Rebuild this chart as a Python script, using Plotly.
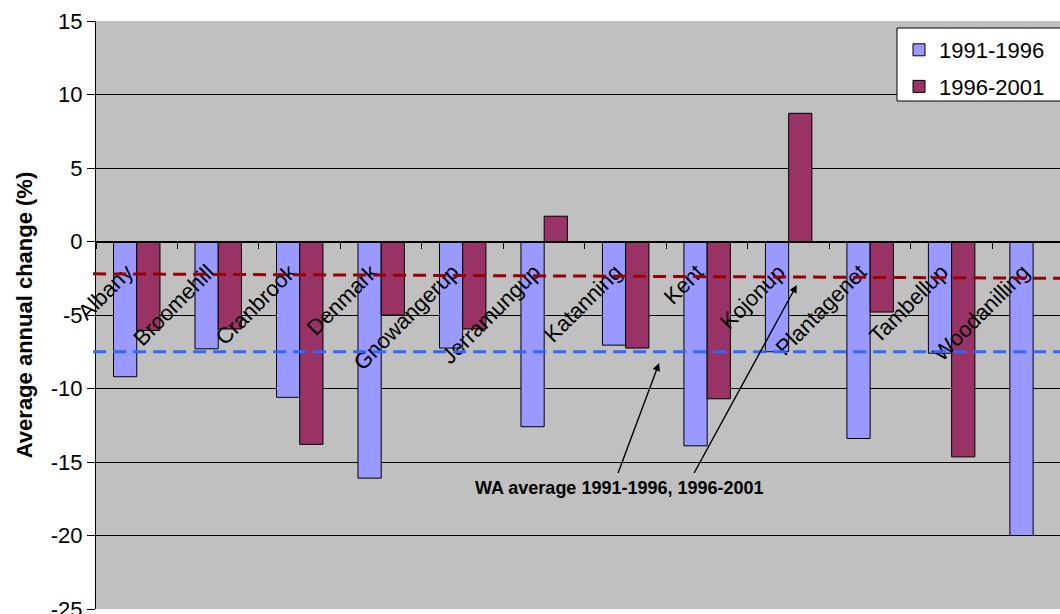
import plotly.graph_objects as go

# Shires of the Great Southern region
shires = ["Albany", "Broomehill", "Cranbrook", "Denmark", "Gnowangerup", "Jerramungup",
          "Katanning", "Kent", "Kojonup", "Plantagenet", "Tambellup", "Woodanilling"]

# Average annual population change (%)
change_1991_1996 = [-9.2, -7.3, -10.6, -16.1, -7.25, -12.6, -7.05, -13.9, -7.5, -13.4, -7.6, -20.0]
change_1996_2001 = [-6.05, -5.95, -13.8, -5.0, -5.95, 1.72, -7.25, -10.7, 8.72, -4.8, -14.65, None]

series_names = ["1991-1996", "1996-2001"]
bar_colors = ["#9999FF", "#993366"]

# y-axis ticks (plain hyphen minus signs)
y_ticks = [15, 10, 5, 0, -5, -10, -15, -20, -25]
y_tick_labels = ["15", "10", "5", "0", "-5", "-10", "-15", "-20", "-25"]

# WA averages (start and end of the drawn reference lines)
wa_avg_1991_1996 = [-7.5, -7.5]
wa_avg_1996_2001 = [-2.2, -2.5]
wa_line_colors = ["#3366FF", "#990000"]

note_text = "WA average 1991-1996, 1996-2001"

FONT = "Arial, Liberation Sans, sans-serif"
PLOT_L, PLOT_W, PLOT_T, PLOT_H = 96, 964, 21, 588

fig = go.Figure()
for name, vals, col in zip(series_names, [change_1991_1996, change_1996_2001], bar_colors):
    fig.add_trace(go.Bar(
        x=shires, y=vals, name=name, legendgroup=name,
        marker=dict(color=col, line=dict(color="black", width=1)),
    ))

# dashed WA average lines across the plot
for vals, col in zip([wa_avg_1991_1996, wa_avg_1996_2001], wa_line_colors):
    fig.add_shape(type="line", xref="paper", yref="y",
                  x0=-0.003, x1=1, y0=vals[0], y1=vals[1],
                  line=dict(color=col, width=3, dash="13px,7px"), layer="above")

# white legend box (runs off the right edge)
def px_x(p):
    return (p - PLOT_L) / PLOT_W

def px_y(p):
    return 1 - (p - PLOT_T) / PLOT_H

fig.add_shape(type="rect", xref="paper", yref="paper",
              x0=px_x(897), x1=px_x(1070), y0=px_y(101), y1=px_y(28),
              fillcolor="white", line=dict(color="black", width=1), layer="above")

# note with two arrows pointing to the average lines
fig.add_annotation(x=5.93, y=-16.8, xref="x", yref="y", text=f"<b>{note_text}</b>",
                   showarrow=False, font=dict(family=FONT, size=18, color="black"))
for (hx, hy), (tx, ty) in [((6.41, -8.27), (5.90, -15.85)), ((8.10, -2.96), (6.83, -15.85))]:
    fig.add_annotation(x=hx, y=hy, ax=tx, ay=ty, xref="x", yref="y", axref="x", ayref="y",
                       text="", showarrow=True, arrowhead=2, arrowsize=1.1, arrowwidth=1.4,
                       arrowcolor="black")

fig.update_layout(
    width=1060, height=614,
    margin=dict(l=PLOT_L, r=0, t=PLOT_T, b=614 - PLOT_T - PLOT_H, autoexpand=False),
    paper_bgcolor="white", plot_bgcolor="#C0C0C0",
    barmode="group", bargap=0.43, bargroupgap=0,
    font=dict(family=FONT, size=22, color="black"),
    legend=dict(x=px_x(899), y=px_y(29), xanchor="left", yanchor="top",
                bgcolor="rgba(0,0,0,0)", borderwidth=0,
                font=dict(family=FONT, size=22, color="black"),
                traceorder="grouped", tracegroupgap=5),
    xaxis=dict(type="category", range=[-0.5, 11.33], anchor="free", position=0.625,
               automargin=False,
               showline=True, linecolor="black", linewidth=1,
               ticks="outside", tickson="boundaries", ticklen=6, tickcolor="black",
               tickangle=-45, showgrid=False, ticklabelshift=-10, ticklabelstandoff=8,
               tickfont=dict(family=FONT, size=22)),
    yaxis=dict(range=[-25, 15], tickvals=y_ticks, ticktext=y_tick_labels,
               automargin=False,
               showgrid=True, gridcolor="black", gridwidth=1,
               zeroline=False, showline=True, linecolor="black", linewidth=1,
               ticks="outside", ticklen=8, tickcolor="black", ticklabeloverflow="allow",
               tickfont=dict(family=FONT, size=22),
               title=dict(text="<b>Average annual change (%)</b>",
                          font=dict(family=FONT, size=22), standoff=12)),
)

fig.write_html("out.html")
